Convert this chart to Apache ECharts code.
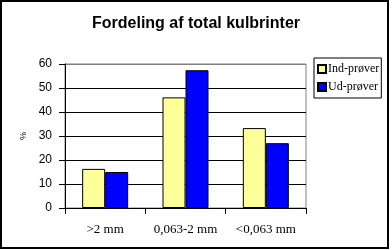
<!DOCTYPE html>
<html>
<head>
<meta charset="utf-8">
<script src="https://cdn.jsdelivr.net/npm/echarts@6/dist/echarts.min.js"></script>
<style>html,body{margin:0;padding:0;background:#fff}#c{width:392px;height:250px}</style>
</head>
<body>
<div id="c"></div>
<script>
const categories = ['>2 mm', '0,063-2 mm', '<0,063 mm'];
const indProever = [16.3, 46.1, 33.3];
const udProever = [15.0, 57.4, 27.0];
const yTicks = [0, 10, 20, 30, 40, 50, 60];

const chart = echarts.init(document.getElementById('c'), null, {renderer: 'canvas'});
chart.setOption({
  animation: false,
  backgroundColor: '#fff',
  title: {
    text: 'Fordeling af total kulbrinter',
    left: 'center',
    top: 11,
    textStyle: {fontFamily: 'Liberation Sans, Arial', fontWeight: 'bold', fontSize: 16, color: '#000'}
  },
  graphic: [{
    type: 'rect',
    shape: {x: 1, y: 1, width: 387, height: 247},
    style: {fill: 'none', stroke: '#000', lineWidth: 2},
    silent: true
  }],
  legend: {
    orient: 'vertical',
    left: 314,
    top: 58,
    borderColor: '#000',
    borderWidth: 1,
    padding: [5, 2, 5, 3],
    itemWidth: 8,
    itemHeight: 8,
    itemGap: 6,
    icon: 'rect',
    textStyle: {fontFamily: 'Liberation Serif, Times New Roman', fontSize: 12, color: '#000', padding: [0, 0, 0, -3]},
    data: ['Ind-prøver', 'Ud-prøver']
  },
  grid: {left: 65, top: 64, width: 241, height: 144, containLabel: false, show: true, borderColor: '#808080', borderWidth: 1, backgroundColor: 'transparent'},
  xAxis: {
    type: 'category',
    data: categories,
    axisLine: {lineStyle: {color: '#000', width: 1}},
    axisTick: {show: true, interval: 0, length: 6, lineStyle: {color: '#000'}},
    axisLabel: {fontFamily: 'Liberation Serif, Times New Roman', fontSize: 13, color: '#000', margin: 15, interval: 0}
  },
  yAxis: {
    type: 'value',
    min: yTicks[0],
    max: yTicks[yTicks.length - 1],
    interval: 10,
    name: '%',
    nameLocation: 'middle',
    nameGap: 33,
    nameRotate: 90,
    nameTextStyle: {fontFamily: 'Liberation Sans, Arial', fontSize: 9, color: '#000'},
    axisLine: {show: true, lineStyle: {color: '#000', width: 1}},
    axisTick: {show: true, length: 6, lineStyle: {color: '#000'}},
    axisLabel: {fontFamily: 'Liberation Sans, Arial', fontSize: 12, color: '#000', margin: 13},
    splitLine: {show: true, lineStyle: {color: ['#000', '#000', '#000', '#000', '#000', '#000', '#808080'], width: 1}}
  },
  series: [
    {
      name: 'Ind-prøver', type: 'bar', data: indProever, barWidth: 23, barGap: '0%',
      itemStyle: {color: '#FFFF99', borderColor: '#000', borderWidth: 1}
    },
    {
      name: 'Ud-prøver', type: 'bar', data: udProever, barWidth: 23, barGap: '0%',
      itemStyle: {color: '#0000FF', borderColor: '#000', borderWidth: 1}
    }
  ]
});
</script>
</body>
</html>
